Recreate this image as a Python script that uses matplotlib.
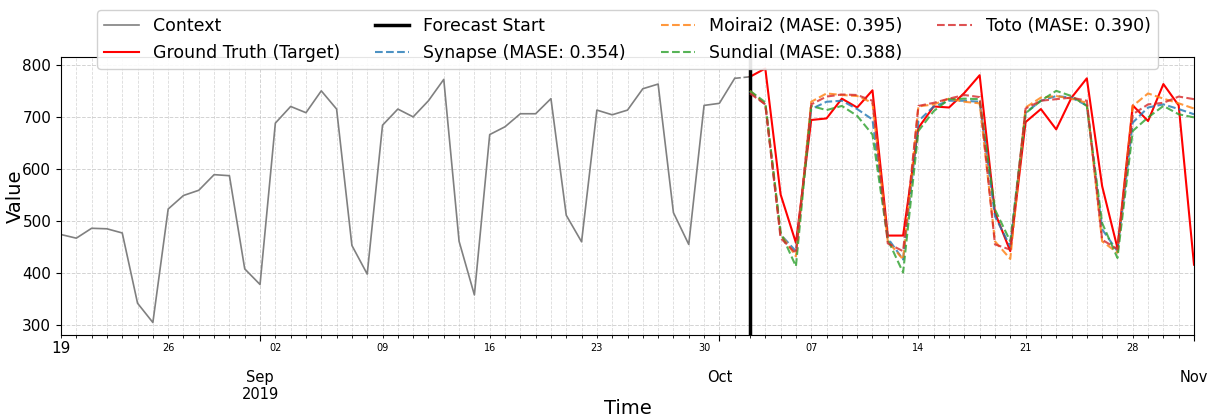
import numpy as np
import pandas as pd
import matplotlib
matplotlib.use("Agg")
import matplotlib.pyplot as plt
import matplotlib.dates as mdates
from matplotlib.ticker import FixedLocator, FuncFormatter

# ---------------- data ----------------
context_start = "2019-08-19"
context_values = [474, 467, 486, 485, 477, 342, 305, 523, 549, 559, 589, 587, 408, 378,
                  688, 720, 708, 750, 715, 453, 398, 684, 715, 700, 731, 772, 461, 358,
                  666, 681, 706, 706, 735, 511, 460, 713, 704, 713, 754, 763, 516, 455,
                  722, 726, 774]
target_start = "2019-10-03"
target_values = [777, 793, 551, 458, 694, 697, 735, 718, 751, 472, 472, 679, 720, 718,
                 746, 780, 516, 442, 690, 715, 676, 737, 774, 567, 448, 722, 692, 763,
                 722, 416]
synapse_values = [748, 724, 474, 442, 715, 729, 731, 715, 695, 467, 426, 692, 720, 731,
                  731, 729, 509, 451, 708, 731, 740, 737, 722, 484, 442, 689, 718, 724,
                  715, 705]
moirai2_values = [750, 724, 475, 432, 729, 745, 742, 740, 727, 461, 426, 720, 724, 735,
                  729, 726, 461, 427, 718, 737, 740, 735, 727, 461, 439, 721, 745, 735,
                  726, 716]
sundial_values = [750, 728, 478, 413, 721, 713, 721, 702, 666, 464, 401, 673, 711, 734,
                  735, 734, 522, 461, 707, 731, 750, 740, 721, 496, 429, 673, 699, 721,
                  705, 699]
toto_values = [745, 724, 467, 438, 724, 739, 743, 742, 731, 457, 442, 721, 727, 735,
               742, 738, 455, 445, 716, 731, 734, 737, 731, 464, 446, 705, 724, 727,
               739, 734]
model_names = ["Synapse", "Moirai2", "Sundial", "Toto"]
model_mase = [0.354, 0.395, 0.388, 0.390]
month_labels = ["Sep\n2019", "Oct", "Nov"]
month_dates = ["2019-09-01", "2019-10-01", "2019-11-01"]

ctx_idx = pd.date_range(context_start, periods=len(context_values), freq="D")
tgt_idx = pd.date_range(target_start, periods=len(target_values), freq="D")

# ---------------- plot ----------------
fig = plt.figure(figsize=(12.14, 4.2), dpi=100)
ax = fig.add_axes([61 / 1214, 1 - 335 / 420, (1194 - 61) / 1214, (335 - 57) / 420])

ax.plot(ctx_idx, context_values, color="gray", lw=1.2, label="Context")
ax.plot([ctx_idx[-1], tgt_idx[0]], [context_values[-1], target_values[0]],
        color="gray", lw=1.2, ls="--")
ax.plot(tgt_idx, target_values, color="red", lw=1.5, label="Ground Truth (Target)")
ax.axvline(tgt_idx[0], color="black", lw=2.5, label="Forecast Start")

colors = ["tab:blue", "tab:orange", "tab:green", "tab:red"]
series = [synapse_values, moirai2_values, sundial_values, toto_values]
for name, mase, vals, c in zip(model_names, model_mase, series, colors):
    ax.plot(tgt_idx, vals, color=c, lw=1.5, ls="--", alpha=0.8,
            label=f"{name} (MASE: {mase:.3f})")

ax.set_xlim(ctx_idx[0], tgt_idx[-1])
ax.set_ylim(281, 815)
ax.set_yticks([300, 400, 500, 600, 700, 800])
ax.tick_params(axis="y", labelsize=11)

# x ticks: pandas-like
major_nums = [mdates.date2num(pd.Timestamp(d)) for d in month_dates]
ax.xaxis.set_major_locator(FixedLocator(major_nums))
ax.xaxis.set_major_formatter(FuncFormatter(
    lambda x, p: month_labels[p] if p is not None and p < len(month_labels) else ""))
day_nums = [mdates.date2num(d) for d in pd.date_range(ctx_idx[0], tgt_idx[-1], freq="D")]
ax.xaxis.set_minor_locator(FixedLocator(day_nums))

def minor_fmt(x, pos):
    d = mdates.num2date(x)
    if d.weekday() == 0 and not (d.month == 8 and d.day == 19):
        return d.strftime("%d")
    return ""

ax.xaxis.set_minor_formatter(FuncFormatter(minor_fmt))
ax.tick_params(axis="x", which="major", labelsize=10.5, length=4, pad=21)
ax.tick_params(axis="x", which="minor", labelsize=7, length=2, pad=4)
ax.text(mdates.date2num(ctx_idx[0]), -0.022, ctx_idx[0].strftime("%d"),
        transform=ax.get_xaxis_transform(), ha="center", va="top", fontsize=11)

ax.grid(True, which="major", color="#b0b0b0", lw=0.7, ls="--", alpha=0.55)
ax.grid(True, which="minor", axis="x", color="#b0b0b0", lw=0.6, ls="--", alpha=0.45)

ax.set_xlabel("Time", fontsize=14, labelpad=-2)
ax.set_ylabel("Value", fontsize=14, labelpad=-2)

ax.legend(loc="upper center", bbox_to_anchor=(0.5, 1.2), ncol=4, fontsize=12.5,
          frameon=True, framealpha=0.9, columnspacing=2.0)

fig.savefig("out.png", dpi=100)
